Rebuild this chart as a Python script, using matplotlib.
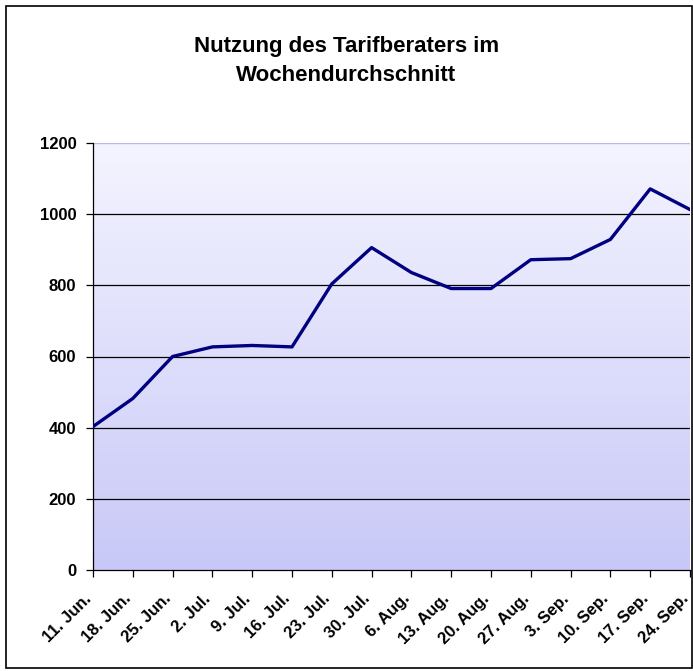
import numpy as np
import matplotlib
matplotlib.use("Agg")
import matplotlib.pyplot as plt
from matplotlib.colors import LinearSegmentedColormap
from matplotlib.patches import Rectangle
from matplotlib.transforms import ScaledTranslation

weeks = ["11. Jun.", "18. Jun.", "25. Jun.", "2. Jul.", "9. Jul.", "16. Jul.",
         "23. Jul.", "30. Jul.", "6. Aug.", "13. Aug.", "20. Aug.", "27. Aug.",
         "3. Sep.", "10. Sep.", "17. Sep.", "24. Sep."]
usage = [403, 482, 600, 627, 631, 627, 804, 906, 836, 791, 791, 872,
         875, 929, 1071, 1013]
yticks = [0, 200, 400, 600, 800, 1000, 1200]

plt.rcParams["font.family"] = ["Liberation Sans", "DejaVu Sans"]

fig = plt.figure(figsize=(6.93, 6.71), dpi=100)
ax = fig.add_axes([93 / 693, 1 - 570 / 671, 597 / 693, 427 / 671])

x = np.arange(len(weeks))
ax.set_xlim(0, len(weeks) - 1)
ax.set_ylim(0, 1200)

# gradient background
grad = LinearSegmentedColormap.from_list("bg", ["#c8c8f8", "#f4f4ff"])
ax.imshow(np.linspace(0, 1, 256).reshape(-1, 1), cmap=grad, aspect="auto",
          extent=(0, len(weeks) - 1, 0, 1200), origin="lower", zorder=0)

for v in yticks[1:-1]:
    ax.axhline(v, color="black", lw=0.9, zorder=1)

ax.plot(x, usage, color="#000080", lw=2.4, zorder=3)

ax.set_xticks(x)
ax.set_xticklabels(weeks, rotation=45, ha="right", va="center",
                   rotation_mode="anchor", fontsize=12, fontweight="bold")
ax.set_yticks(yticks)
ax.set_yticklabels([str(v) for v in yticks], fontsize=12, fontweight="bold")
ax.tick_params(axis="both", direction="out", length=5, width=0.9, color="black")
ax.tick_params(axis="x", pad=14)
ax.tick_params(axis="y", pad=7)

shift = ScaledTranslation(-4 / 100, 0, fig.dpi_scale_trans)
for lab in ax.get_xticklabels():
    lab.set_transform(lab.get_transform() + shift)

for side in ["top", "right"]:
    ax.spines[side].set_visible(False)
ax.spines["left"].set_linewidth(0.9)
ax.spines["bottom"].set_linewidth(0.9)
ax.axhline(1200, color="#b8b8e8", lw=1.0, zorder=1)

fig.text(0.5, 1 - 61 / 671, "Nutzung des Tarifberaters im\nWochendurchschnitt",
         ha="center", va="center", fontsize=16, fontweight="bold",
         linespacing=1.45)

fig.patches.append(Rectangle((6 / 693, 3 / 671), 686 / 693, 662 / 671,
                             transform=fig.transFigure, fill=False,
                             edgecolor="black", lw=1.2))

fig.savefig("out.png", dpi=100)
